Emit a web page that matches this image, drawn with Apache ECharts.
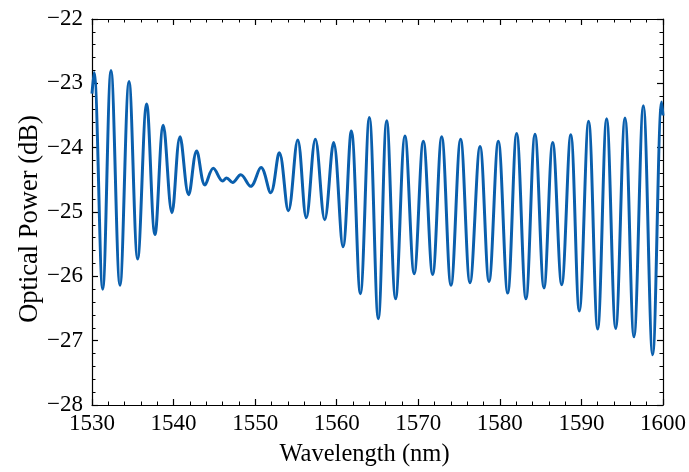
<!DOCTYPE html>
<html>
<head>
<meta charset="utf-8">
<script src="https://cdn.jsdelivr.net/npm/echarts@6/dist/echarts.min.js"></script>
<style>html,body{margin:0;padding:0;background:#fff}#c{width:689px;height:472px}</style>
</head>
<body>
<div id="c"></div>
<script>
// Extrema (wavelength nm, optical power dB)
const wavelength = [1530.0,1530.25,1531.31,1532.33,1533.43,1534.54,1535.60,1536.70,1537.72,1538.74,1539.80,1540.79,1541.85,1542.83,1543.85,1544.87,1546.02,1546.50,1547.24,1548.23,1549.45,1550.72,1551.90,1552.96,1554.07,1555.22,1556.27,1557.38,1558.53,1559.62,1560.77,1561.79,1562.90,1564.00,1565.10,1566.13,1567.22,1568.37,1569.50,1570.62,1571.76,1572.87,1574.01,1575.19,1576.34,1577.57,1578.67,1579.81,1580.96,1582.06,1583.20,1584.31,1585.41,1586.48,1587.58,1588.69,1589.74,1590.88,1591.99,1593.09,1594.20,1595.34,1596.44,1597.59,1598.73,1599.84,1600.0];
const power = [-23.16,-22.83,-26.20,-22.80,-26.14,-22.97,-25.73,-23.32,-25.35,-23.65,-25.01,-23.83,-24.73,-24.05,-24.58,-24.32,-24.52,-24.47,-24.54,-24.42,-24.60,-24.31,-24.70,-24.08,-24.98,-23.88,-25.09,-23.87,-25.12,-23.92,-25.54,-23.74,-26.27,-23.53,-26.66,-23.58,-26.35,-23.82,-25.96,-23.90,-25.97,-23.83,-26.14,-23.87,-26.10,-23.98,-26.08,-23.90,-26.26,-23.78,-26.35,-23.79,-26.18,-23.92,-26.13,-23.80,-26.54,-23.59,-26.82,-23.55,-26.81,-23.54,-26.94,-23.35,-27.22,-23.29,-23.50];
const xTicks = [1530,1540,1550,1560,1570,1580,1590,1600];
const yTicks = [-28,-27,-26,-25,-24,-23,-22];

const FONT = '"Liberation Serif","DejaVu Serif",serif';
const data = wavelength.map((w,i)=>[w, power[i]]);
const axisLine = {show:true, lineStyle:{color:'#000', width:1.2}};
const tick = {show:true, inside:true, length:6, lineStyle:{color:'#000', width:1.2}};
const minor = {show:true, splitNumber:5, length:3.5, lineStyle:{color:'#000', width:1}};
const fmtY = v => (v<0?'\u2212':'') + Math.abs(v);
const fmtX = v => String(v);

const chart = echarts.init(document.getElementById('c'), null, {renderer:'canvas'});
chart.setOption({
  animation:false,
  backgroundColor:'#fff',
  grid:{left:92, right:25, top:19, bottom:65},
  xAxis:[{
    type:'value', min:xTicks[0], max:xTicks[xTicks.length-1], interval:10,
    axisLine, axisTick:tick, minorTick:minor, splitLine:{show:false},
    axisLabel:{color:'#000', fontFamily:FONT, fontSize:23, margin:7, formatter:fmtX},
    name:'Wavelength (nm)', nameLocation:'middle', nameGap:37,
    nameTextStyle:{color:'#000', fontFamily:FONT, fontSize:24.5, padding:[0,26,0,0]}
  },{
    type:'value', position:'top', min:xTicks[0], max:xTicks[xTicks.length-1], interval:10,
    axisLine, axisTick:tick, minorTick:minor, splitLine:{show:false}, axisLabel:{show:false}
  }],
  yAxis:[{
    type:'value', min:yTicks[0], max:yTicks[yTicks.length-1], interval:1,
    axisLine, axisTick:tick, minorTick:minor, splitLine:{show:false},
    axisLabel:{color:'#000', fontFamily:FONT, fontSize:23, margin:9, formatter:fmtY},
    name:'Optical Power (dB)', nameLocation:'middle', nameGap:48, nameRotate:90, nameMoveOverlap:false,
    nameTextStyle:{color:'#000', fontFamily:FONT, fontSize:26.5, padding:[0,14,0,0]}
  },{
    type:'value', position:'right', min:yTicks[0], max:yTicks[yTicks.length-1], interval:1,
    axisLine, axisTick:tick, minorTick:minor, splitLine:{show:false}, axisLabel:{show:false}
  }],
  series:[{
    type:'line', data, smooth:0.37, showSymbol:false, clip:true,
    lineStyle:{color:'#0A5FAD', width:3}
  }]
});
</script>
</body>
</html>
